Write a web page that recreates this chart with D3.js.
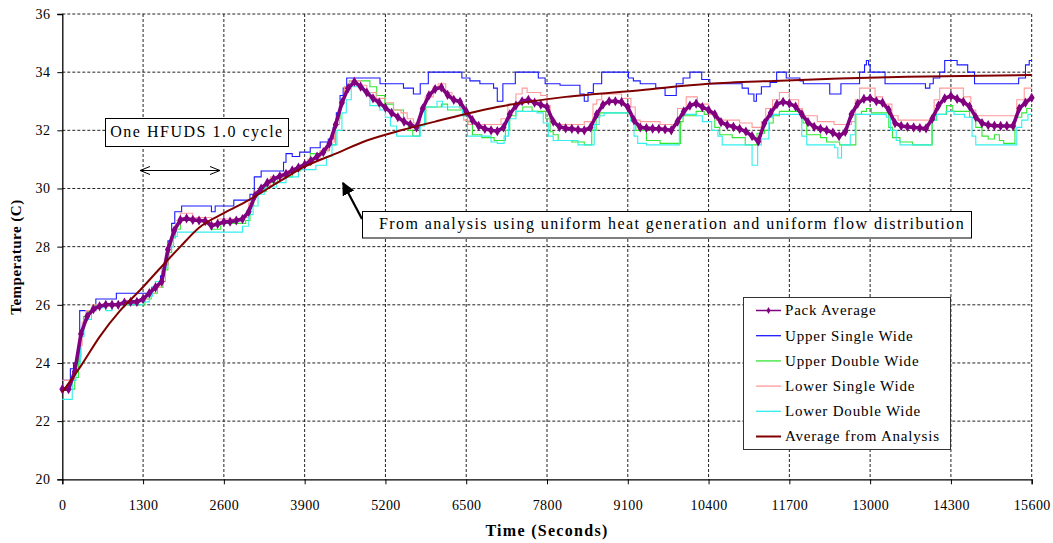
<!DOCTYPE html>
<html>
<head>
<meta charset="utf-8">
<script src="https://cdn.jsdelivr.net/npm/d3@7"></script>
<style>
body { margin: 0; background: #fff; }
text { font-family: "Liberation Serif", "Times New Roman", serif; fill: #000; }
</style>
</head>
<body>
<script>
// tick labels
let xTicks = [0, 1300, 2600, 3900, 5200, 6500, 7800, 9100, 10400, 11700, 13000, 14300, 15600];
let yTicks = [20, 22, 24, 26, 28, 30, 32, 34, 36];

// pack average, one reading every 100 s
let packTimes = d3.range(0, 15601, 100);
let packAverage = [
  23.10, 23.10, 23.70, 25.00, 25.60, 25.85, 25.95, 26.00, 26.00, 26.00,
  26.08, 26.10, 26.10, 26.20, 26.40, 26.60, 26.80, 27.90, 28.55, 28.92,
  28.97, 28.92, 28.90, 28.88, 28.72, 28.78, 28.85, 28.86, 28.90, 28.95,
  29.20, 29.75, 30.00, 30.20, 30.32, 30.42, 30.50, 30.62, 30.72, 30.82,
  30.95, 31.10, 31.25, 31.55, 32.20, 32.95, 33.45, 33.67, 33.50, 33.30,
  33.10, 32.95, 32.78, 32.60, 32.45, 32.30, 32.20, 32.10, 32.75, 33.20,
  33.42, 33.48, 33.22, 33.05, 32.98, 32.65, 32.35, 32.15, 32.05, 32.00,
  31.97, 32.10, 32.55, 32.85, 33.00, 33.05, 32.95, 32.88, 32.80, 32.30,
  32.12, 32.07, 32.05, 32.02, 32.00, 32.10, 32.55, 32.88, 33.00, 33.00,
  32.97, 32.80, 32.35, 32.10, 32.08, 32.06, 32.05, 32.03, 32.00, 32.30,
  32.65, 32.85, 32.92, 32.80, 32.70, 32.55, 32.28, 32.18, 32.12, 32.05,
  31.96, 31.80, 31.62, 32.25, 32.60, 32.90, 32.98, 32.92, 32.82, 32.55,
  32.28, 32.12, 32.05, 32.00, 31.92, 31.80, 31.95, 32.55, 32.92, 33.08,
  33.10, 33.00, 32.95, 32.70, 32.25, 32.15, 32.12, 32.10, 32.08, 32.07,
  32.40, 32.85, 33.10, 33.18, 33.08, 32.98, 32.82, 32.45, 32.25, 32.18,
  32.16, 32.15, 32.15, 32.15, 32.75, 32.95, 33.12
];

// thermocouple readings as [time, temperature] where the value changes
let upperSingleWide = [
  [0, 23.4], [130, 23.8], [180, 24.0], [280, 25.8], [540, 26.2], [870, 26.4], [1440, 26.6],
  [1500, 26.8], [1580, 27.0], [1650, 27.4], [1700, 28.2], [1760, 28.8], [1810, 29.2], [1920, 29.4],
  [2400, 29.2], [2460, 29.4], [2760, 29.6], [3020, 29.8], [3090, 30.4], [3200, 30.6], [3560, 30.9],
  [3600, 31.2], [3700, 31.1], [3820, 31.25], [3990, 31.4], [4150, 31.6], [4280, 31.7], [4360, 32.1],
  [4410, 32.6], [4470, 33.2], [4520, 33.45], [4577, 33.8], [5113, 33.6], [5490, 33.45], [5650, 33.25],
  [5760, 33.6], [5890, 34.0], [6430, 33.8], [6560, 33.7], [6720, 33.6], [6940, 33.45], [7000, 33.0],
  [7090, 33.6], [7290, 34.0], [7660, 33.8], [7770, 33.6], [8010, 33.55], [8330, 33.25], [8400, 33.0],
  [8460, 33.3], [8546, 33.6], [8680, 34.0], [9110, 33.8], [9190, 33.7], [9300, 33.6], [9550, 33.45],
  [9700, 33.2], [9880, 33.6], [9990, 33.8], [10100, 34.0], [10290, 33.75], [10420, 33.6], [10940, 33.45],
  [11040, 33.25], [11130, 33.0], [11170, 33.25], [11250, 33.5], [11390, 33.65], [11496, 34.0],
  [11650, 33.8], [11870, 33.7], [11925, 33.6], [12350, 33.25], [12530, 33.6], [12830, 34.0],
  [12910, 34.25], [12940, 34.4], [12975, 34.25], [13000, 34.0], [13240, 33.6], [13890, 33.45],
  [13960, 33.6], [14016, 33.8], [14120, 34.0], [14200, 34.4], [14400, 34.25], [14570, 34.0],
  [14680, 33.6], [15390, 33.8], [15500, 34.25], [15560, 34.4], [15600, 34.4]
];
let upperDoubleWide = [
  [0, 23.1], [160, 23.1], [200, 23.5], [260, 24.2], [300, 25.0], [340, 25.6], [420, 25.8], [500, 26.0],
  [1330, 26.2], [1430, 26.4], [1530, 26.6], [1620, 26.8], [1660, 27.2], [1700, 27.8], [1760, 28.3],
  [1820, 28.6], [1900, 28.9], [2300, 28.8], [2400, 28.6], [2550, 28.8], [2950, 28.9], [3020, 29.4],
  [3080, 29.9], [3280, 30.2], [3460, 30.4], [3700, 30.6], [3830, 30.8], [3990, 31.2], [4150, 31.3],
  [4300, 31.5], [4400, 32.4], [4470, 33.0], [4540, 33.5], [4620, 33.7], [4950, 33.5], [5060, 33.2],
  [5190, 32.9], [5330, 32.7], [5490, 32.25], [5570, 32.0], [5640, 31.8], [5750, 32.2], [5850, 32.8],
  [6100, 32.9], [6200, 32.7], [6450, 32.5], [6520, 32.3], [6600, 31.85], [6750, 31.75], [6950, 31.65],
  [7130, 32.0], [7200, 32.5], [7300, 32.65], [7410, 32.8], [7560, 32.65], [7780, 32.4], [7850, 31.95],
  [7900, 31.85], [7980, 31.65], [8200, 31.6], [8400, 31.5], [8520, 32.0], [8590, 32.45], [8650, 32.6],
  [9150, 32.35], [9230, 32.0], [9400, 31.65], [9620, 31.55], [9950, 32.3], [9990, 32.5], [10200, 32.65],
  [10330, 32.55], [10500, 32.1], [10580, 31.85], [10780, 31.75], [10990, 31.5], [11180, 31.9],
  [11300, 32.0], [11380, 32.25], [11440, 32.5], [11540, 32.65], [11920, 32.25], [11980, 31.85],
  [12200, 31.75], [12300, 31.6], [12510, 31.5], [12770, 32.55], [12860, 32.65], [12940, 32.75],
  [13020, 32.6], [13300, 32.1], [13360, 31.75], [13480, 31.6], [13680, 31.5], [14000, 32.35],
  [14070, 32.55], [14230, 32.85], [14330, 32.65], [14600, 32.45], [14700, 32.1], [14800, 31.8],
  [14900, 31.7], [15000, 31.85], [15080, 31.65], [15150, 31.55], [15330, 32.45], [15440, 32.6],
  [15520, 32.75], [15600, 32.75]
];
let lowerSingleWide = [
  [0, 23.4], [150, 23.4], [200, 23.8], [280, 24.6], [320, 25.4], [380, 25.8], [480, 26.0], [950, 26.1],
  [1300, 26.2], [1400, 26.4], [1500, 26.6], [1600, 26.8], [1660, 27.4], [1700, 28.0], [1760, 28.5],
  [1820, 28.9], [1900, 29.15], [2100, 29.0], [2400, 28.8], [2500, 28.95], [2900, 29.0], [3000, 29.5],
  [3080, 29.9], [3200, 30.1], [3350, 30.4], [3600, 30.6], [3800, 30.8], [3950, 31.0], [4150, 31.3],
  [4280, 31.6], [4380, 32.2], [4460, 33.0], [4540, 33.5], [4620, 33.7], [4800, 33.55], [4900, 33.3],
  [5050, 33.1], [5200, 32.95], [5330, 32.7], [5450, 32.6], [5550, 32.4], [5650, 32.25], [5760, 32.7],
  [5840, 33.15], [5970, 33.5], [6050, 33.6], [6170, 33.3], [6270, 33.0], [6400, 32.75], [6460, 32.35],
  [6530, 32.2], [7060, 32.4], [7170, 32.9], [7300, 33.25], [7400, 33.45], [7480, 33.3], [7700, 33.2],
  [7800, 32.85], [7850, 32.35], [7940, 32.2], [8400, 32.3], [8540, 32.9], [8600, 33.05], [8680, 33.25],
  [9000, 33.1], [9150, 32.8], [9220, 32.35], [9300, 32.3], [9560, 32.3], [9620, 32.2], [9900, 32.75],
  [10040, 33.15], [10220, 32.9], [10400, 32.55], [10520, 32.35], [10900, 32.25], [11100, 32.1],
  [11250, 32.3], [11320, 32.75], [11430, 33.05], [11540, 33.3], [11700, 33.05], [11850, 32.75],
  [11910, 32.5], [12150, 32.3], [12420, 32.2], [12700, 32.3], [12760, 33.05], [12830, 33.45],
  [13080, 33.15], [13200, 32.9], [13350, 32.5], [13450, 32.35], [14030, 33.05], [14120, 33.45],
  [14500, 33.15], [14620, 32.7], [14700, 32.5], [15360, 33.05], [15480, 33.45], [15600, 33.45]
];
let lowerDoubleWide = [
  [0, 22.75], [130, 22.75], [160, 23.4], [220, 24.0], [290, 24.9], [350, 25.5], [470, 25.9], [700, 25.8],
  [800, 26.0], [1300, 26.1], [1400, 26.3], [1450, 26.6], [1500, 26.8], [1600, 27.25], [1670, 27.6],
  [1720, 28.0], [1790, 28.35], [1850, 28.5], [2900, 28.7], [3000, 29.1], [3070, 29.4], [3150, 29.8],
  [3250, 30.05], [3450, 30.2], [3600, 30.4], [3800, 30.65], [4080, 30.8], [4250, 31.1], [4340, 31.5],
  [4420, 32.0], [4500, 32.6], [4570, 33.05], [4650, 33.5], [4850, 33.3], [4950, 32.85], [5110, 32.7],
  [5200, 32.45], [5280, 32.15], [5380, 31.8], [5700, 31.8], [5760, 32.15], [5830, 32.8], [6030, 33.0],
  [6120, 32.8], [6440, 32.5], [6520, 31.8], [6900, 31.6], [7000, 31.55], [7110, 31.8], [7180, 32.4],
  [7300, 32.65], [7640, 32.6], [7740, 32.25], [7820, 31.8], [7900, 31.65], [8300, 31.5], [8560, 32.2],
  [8640, 32.5], [8720, 32.6], [9150, 32.3], [9200, 31.8], [9260, 31.55], [9400, 31.5], [9930, 32.45],
  [9990, 32.55], [10200, 32.5], [10300, 32.3], [10450, 32.0], [10550, 31.8], [10620, 31.5],
  [11100, 30.8], [11190, 31.5], [11250, 31.7], [11370, 32.45], [11430, 32.55], [11900, 31.8],
  [11980, 31.5], [12430, 31.4], [12480, 31.05], [12540, 31.5], [12680, 31.85], [12760, 32.55],
  [13260, 32.45], [13330, 32.0], [13420, 31.65], [13480, 31.5], [13990, 32.35], [14060, 32.55],
  [14220, 32.65], [14350, 32.55], [14520, 32.45], [14640, 31.8], [14700, 31.5], [15360, 32.1],
  [15440, 32.35], [15540, 32.55], [15600, 32.55]
];
// smooth analysis curve, read at a few times
let analysisAverage = [
  [0, 23.0], [300, 23.9], [600, 24.9], [930, 25.8], [1250, 26.5], [1570, 27.25], [1900, 28.0],
  [2200, 28.65], [2600, 29.15], [3000, 29.6], [3500, 30.25], [3900, 30.75], [4400, 31.2],
  [4900, 31.65], [5450, 32.0], [6000, 32.3], [7000, 32.8], [8100, 33.15], [9300, 33.38],
  [10400, 33.6], [11450, 33.7], [12500, 33.78], [13600, 33.84], [15600, 33.9]
];

let seriesNames = ["Pack Average", "Upper Single Wide", "Upper Double Wide",
  "Lower Single Wide", "Lower Double Wide", "Average from Analysis"];
let seriesColors = ["#800080", "#1a1aff", "#33e633", "#ff9999", "#33eeee", "#800000"];

// layout
let margin = { top: 14, right: 21.3, bottom: 63.7, left: 62.3 },
    fullW = 1053, fullH = 543,
    width = fullW - margin.left - margin.right,
    height = fullH - margin.top - margin.bottom;

let svg = d3.select("body").append("svg")
    .attr("width", fullW)
    .attr("height", fullH);

let g = svg.append("g")
    .attr("transform", "translate(" + margin.left + "," + margin.top + ")");

let x = d3.scaleLinear().domain([0, 15600]).range([0, width]);
let y = d3.scaleLinear().domain([20, 36]).range([height, 0]);

// dashed grid
g.append("g").selectAll("line")
    .data(yTicks.filter(d => d > 20))
    .enter().append("line")
    .attr("x1", 0).attr("x2", width)
    .attr("y1", d => y(d)).attr("y2", d => y(d))
    .attr("stroke", "#222").attr("stroke-dasharray", "3,2").attr("stroke-width", 1);
g.append("g").selectAll("line")
    .data(xTicks.filter(d => d > 0))
    .enter().append("line")
    .attr("x1", d => x(d)).attr("x2", d => x(d))
    .attr("y1", 0).attr("y2", height)
    .attr("stroke", "#222").attr("stroke-dasharray", "3,2").attr("stroke-width", 1);

// axes
let xAxis = g.append("g")
    .attr("transform", "translate(0," + height + ")")
    .call(d3.axisBottom(x).tickValues(xTicks).tickSize(5).tickPadding(16).tickFormat(d3.format("d")));
let yAxis = g.append("g")
    .call(d3.axisLeft(y).tickValues(yTicks).tickSize(5).tickPadding(7));
[xAxis, yAxis].forEach(a => {
  a.select(".domain").attr("stroke", "#000").attr("stroke-width", 1.3);
  a.selectAll(".tick line").attr("stroke", "#000");
  a.selectAll("text")
    .style("font-family", "'Liberation Serif', serif")
    .style("font-size", "14px")
    .style("letter-spacing", "0.4px")
    .attr("fill", "#222");
});

// step lines
let stepLine = d3.line()
    .x(d => x(d[0]))
    .y(d => y(d[1]))
    .curve(d3.curveStepAfter);

let steps = [
  [upperSingleWide, seriesColors[1]],
  [upperDoubleWide, seriesColors[2]],
  [lowerSingleWide, seriesColors[3]],
  [lowerDoubleWide, seriesColors[4]]
];
steps.forEach(s => {
  g.append("path")
    .datum(s[0])
    .attr("d", stepLine)
    .attr("fill", "none")
    .attr("stroke", s[1])
    .attr("stroke-width", 1.1);
});

// pack average with diamonds
let packData = packTimes.map((t, i) => [t, packAverage[i]]);
let packLine = d3.line().x(d => x(d[0])).y(d => y(d[1]));
g.append("path")
    .datum(packData)
    .attr("d", packLine)
    .attr("fill", "none")
    .attr("stroke", seriesColors[0])
    .attr("stroke-width", 3.6);
g.selectAll(".pack")
    .data(packData)
    .enter().append("path")
    .attr("class", "pack")
    .attr("transform", d => "translate(" + x(d[0]) + "," + y(d[1]) + ")")
    .attr("d", d3.symbol(d3.symbolDiamond, 30))
    .attr("fill", seriesColors[0]);

// analysis curve
let smoothLine = d3.line().x(d => x(d[0])).y(d => y(d[1])).curve(d3.curveMonotoneX);
g.append("path")
    .datum(analysisAverage)
    .attr("d", smoothLine)
    .attr("fill", "none")
    .attr("stroke", seriesColors[5])
    .attr("stroke-width", 2);

// axis titles
svg.append("text")
    .attr("x", 547).attr("y", 536)
    .attr("text-anchor", "middle")
    .style("font-size", "16px").style("font-weight", "bold").style("letter-spacing", "1.3px")
    .text("Time (Seconds)");
svg.append("text")
    .attr("transform", "translate(21,257) rotate(-90)")
    .attr("text-anchor", "middle")
    .style("font-size", "15px").style("font-weight", "bold").style("letter-spacing", "0.5px")
    .text("Temperature (C)");

// annotation: one cycle
svg.append("rect")
    .attr("x", 105.5).attr("y", 118.5).attr("width", 183).attr("height", 28)
    .attr("fill", "#fff").attr("stroke", "#000").attr("stroke-width", 1);
svg.append("text")
    .attr("x", 197).attr("y", 137)
    .attr("text-anchor", "middle")
    .style("font-size", "16px").style("letter-spacing", "1.5px")
    .text("One HFUDS 1.0 cycle");

let defs = svg.append("defs");
defs.append("marker").attr("id", "open").attr("viewBox", "0 0 10 10")
    .attr("refX", 10).attr("refY", 5).attr("markerWidth", 10).attr("markerHeight", 10)
    .attr("markerUnits", "userSpaceOnUse").attr("orient", "auto-start-reverse")
    .append("path").attr("d", "M0,1 L10,5 L0,9").attr("fill", "none").attr("stroke", "#000").attr("stroke-width", 1);
defs.append("marker").attr("id", "solid").attr("viewBox", "0 0 10 10")
    .attr("refX", 9).attr("refY", 5).attr("markerWidth", 13).attr("markerHeight", 13)
    .attr("markerUnits", "userSpaceOnUse").attr("orient", "auto")
    .append("path").attr("d", "M0,0 L10,5 L0,10 Z").attr("fill", "#000");

svg.append("line")
    .attr("x1", 140).attr("y1", 170.5).attr("x2", 220).attr("y2", 170.5)
    .attr("stroke", "#000").attr("stroke-width", 1)
    .attr("marker-start", "url(#open)").attr("marker-end", "url(#open)");

// annotation: analysis
svg.append("line")
    .attr("x1", 362).attr("y1", 219).attr("x2", 343).attr("y2", 183)
    .attr("stroke", "#000").attr("stroke-width", 2.2)
    .attr("marker-end", "url(#solid)");
svg.append("rect")
    .attr("x", 362.5).attr("y", 211.5).attr("width", 609).attr("height", 26.5)
    .attr("fill", "#fff").attr("stroke", "#000").attr("stroke-width", 1);
svg.append("text")
    .attr("x", 672).attr("y", 229)
    .attr("text-anchor", "middle")
    .style("font-size", "16px").style("letter-spacing", "1.45px")
    .text("From analysis using uniform heat generation and uniform flow distribution");

// legend
let legend = svg.append("g").attr("transform", "translate(743.5,297.5)");
legend.append("rect")
    .attr("width", 207).attr("height", 152)
    .attr("fill", "#fff").attr("stroke", "#333").attr("stroke-width", 1);
let item = legend.selectAll(".item")
    .data(seriesNames)
    .enter().append("g")
    .attr("class", "item")
    .attr("transform", (d, i) => "translate(0," + (13 + i * 25.2) + ")");
item.append("line")
    .attr("x1", 12.5).attr("x2", 37.5)
    .attr("stroke", (d, i) => seriesColors[i])
    .attr("stroke-width", (d, i) => i === 5 ? 2 : (i === 0 ? 1.5 : 1.3));
item.filter((d, i) => i === 0).append("path")
    .attr("transform", "translate(25,0)")
    .attr("d", d3.symbol(d3.symbolDiamond, 14))
    .attr("fill", seriesColors[0]);
item.append("text")
    .attr("x", 41.5).attr("dy", "0.33em")
    .style("font-size", "15px").style("letter-spacing", "0.8px")
    .text(d => d);
</script>
</body>
</html>
